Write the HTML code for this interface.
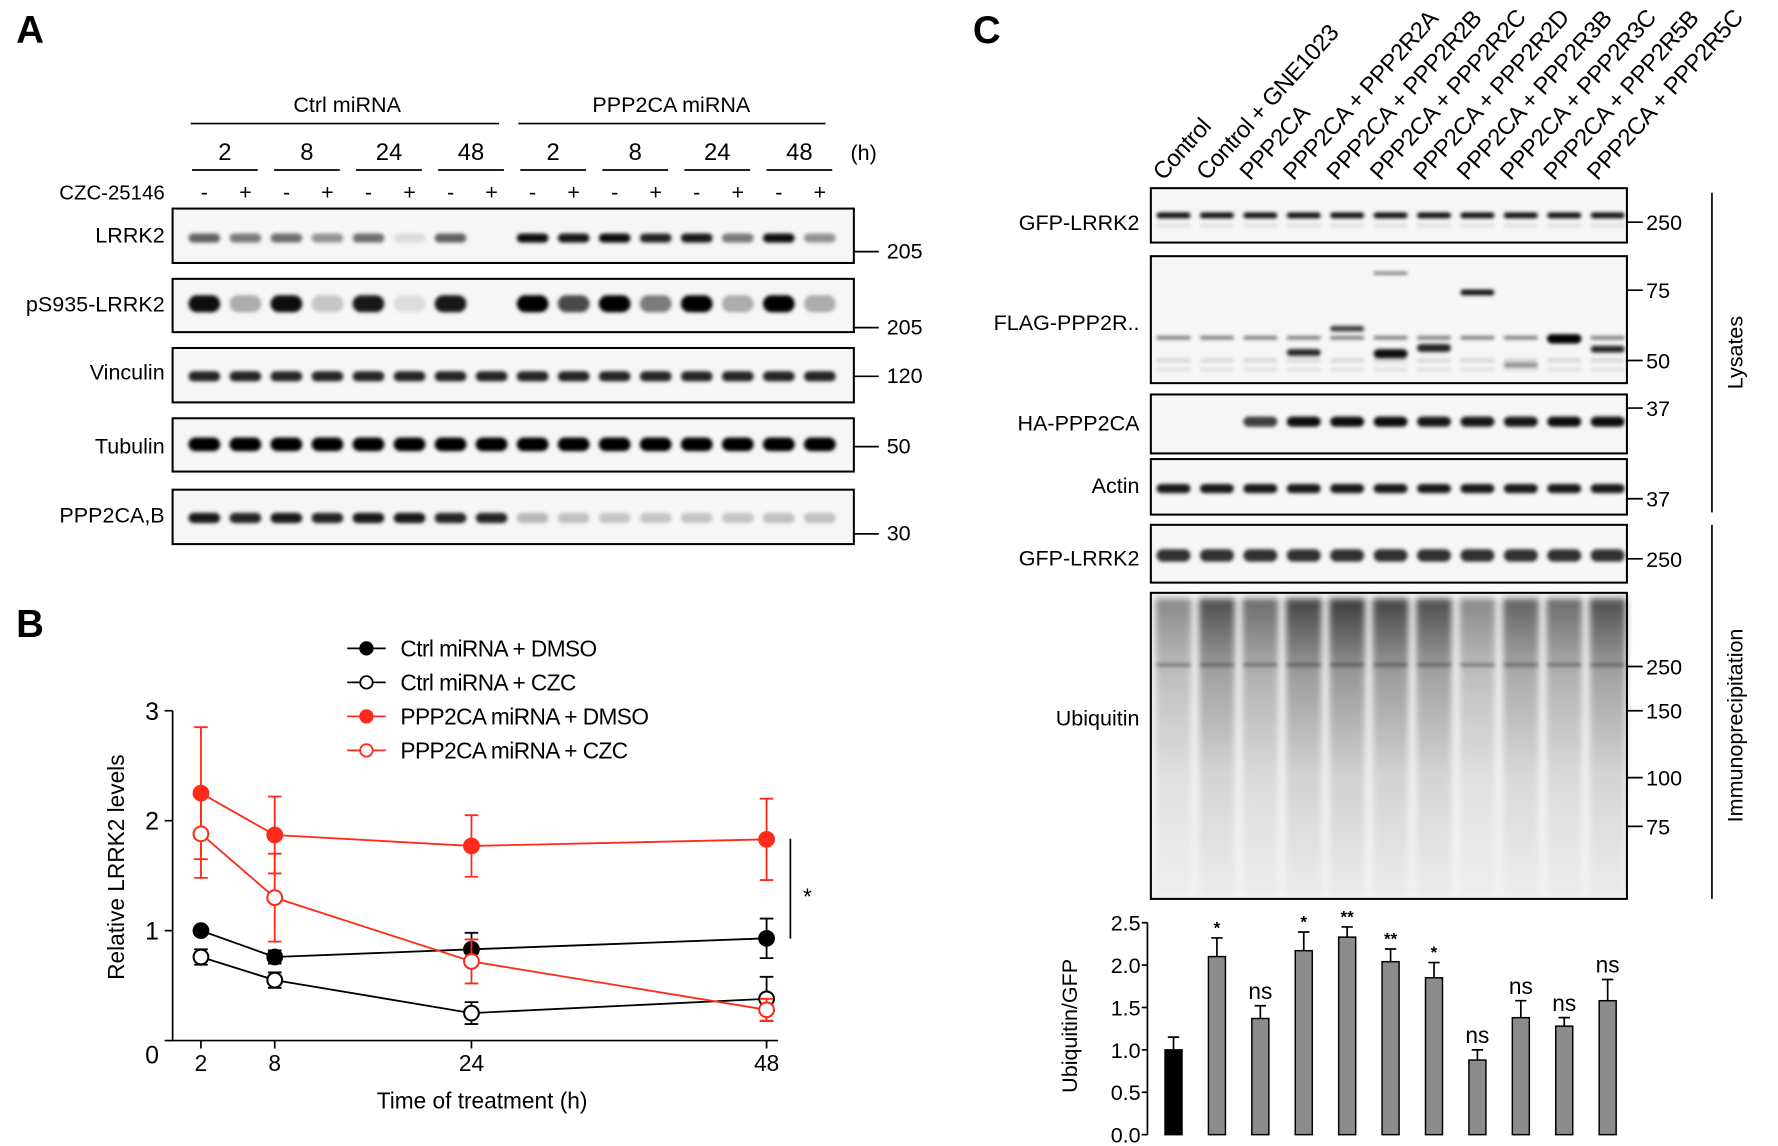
<!DOCTYPE html>
<html><head><meta charset="utf-8"><style>
html,body{margin:0;padding:0;background:#fff;}
svg{display:block;font-family:"Liberation Sans",Arial,sans-serif;}
</style></head><body>
<svg id="fig" width="1778" height="1146" viewBox="0 0 1568 1011" xmlns="http://www.w3.org/2000/svg">
<defs>
<filter id="blur" x="-20%" y="-100%" width="140%" height="300%"><feGaussianBlur stdDeviation="1.6"/></filter>
<filter id="blur2" x="-20%" y="-20%" width="140%" height="140%"><feGaussianBlur stdDeviation="3"/></filter>
</defs>
<g id="panelA"></g>
<g id="panelB"></g>
<g id="panelC"></g>
</svg>
<script>
const NS="http://www.w3.org/2000/svg";
function mk(parent,tag,attrs,text){const e=document.createElementNS(NS,tag);for(const k in attrs)e.setAttribute(k,attrs[k]);if(text!==undefined)e.textContent=text;parent.appendChild(e);return e;}

/* ---------- Panel B data ---------- */
const timesB=[2,8,24,48];
const ctrlDmso=[1.0,0.76,0.83,0.93];
const ctrlDmsoErr=[0.02,0.06,0.15,0.18];
const ctrlCzc=[0.76,0.55,0.25,0.38];
const ctrlCzcErr=[0.07,0.07,0.1,0.2];
const pppDmso=[2.25,1.87,1.77,1.83];
const pppDmsoErr=[0.6,0.35,0.28,0.37];
const pppCzc=[1.88,1.3,0.72,0.28];
const pppCzcErr=[0.4,0.4,0.2,0.1];
const yTicksB=[0,1,2,3];
const xTicksB=[2,8,24,48];

/* ---------- Panel C bar data ---------- */
const barCats=["Control","Control + GNE1023","PPP2CA","PPP2CA + PPP2R2A","PPP2CA + PPP2R2B","PPP2CA + PPP2R2C","PPP2CA + PPP2R2D","PPP2CA + PPP2R3B","PPP2CA + PPP2R3C","PPP2CA + PPP2R5B","PPP2CA + PPP2R5C"];
const barVals=[1.0,2.1,1.37,2.17,2.33,2.04,1.85,0.88,1.38,1.28,1.58];
const barErrs=[0.15,0.22,0.15,0.22,0.12,0.15,0.18,0.12,0.2,0.1,0.25];
const barSig=["","*","ns","*","**","**","*","ns","ns","ns","ns"];
const yTicksC=["0.0","0.5","1.0","1.5","2.0","2.5"];

/* ===== Panel A ===== */
const A=document.getElementById('panelA');
mk(A,'text',{x:14,y:38,'font-size':34,'font-weight':'bold',},'A');
mk(A,'text',{x:306,y:99,'font-size':19,'text-anchor':'middle',},'Ctrl miRNA');
mk(A,'line',{x1:168,x2:440,y1:109,y2:109,stroke:'#000','stroke-width':1.5,});
mk(A,'text',{x:592,y:99,'font-size':19,'text-anchor':'middle',},'PPP2CA miRNA');
mk(A,'line',{x1:457,x2:728,y1:109,y2:109,stroke:'#000','stroke-width':1.5,});
const lanesA=[];for(let i=0;i<16;i++)lanesA.push(180+i*36.2);
const hrs=["2","8","24","48","2","8","24","48"];
for(let p=0;p<8;p++){const cx=(lanesA[2*p]+lanesA[2*p+1])/2;
 const t=mk(A,'text',{x:cx,y:141,'font-size':21,'text-anchor':'middle'},hrs[p]);
 
 
 const l=mk(A,'line',{x1:cx-29,x2:cx+29,y1:150,y2:150,stroke:'#000','stroke-width':1.5});
 
 
}
mk(A,'text',{x:750,y:141,'font-size':19,},'(h)');
mk(A,'text',{x:145,y:176,'font-size':18,'text-anchor':'end',},'CZC-25146');
for(let i=0;i<16;i++){const t=mk(A,'text',{x:lanesA[i],y:176,'font-size':19,'text-anchor':'middle'},i%2?'+':'-');
 
 }

function blot(parent,name,x0,x1,y0,y1,lanes,bands,bw){
 const g=mk(parent,'g',{});
 
 
 mk(g,'rect',{x:x0,y:y0,width:x1-x0,height:y1-y0,fill:'#f6f6f6'});
 bands.forEach(b=>{lanes.forEach((lx,i)=>{const v=b.v[i];if(v<=0)return;
   const r=mk(g,'rect',{x:lx-bw/2,y:b.y-b.h/2,width:bw,height:b.h,rx:b.h/2,fill:'#000','fill-opacity':v,filter:'url(#blur)'});
   
   });});
 mk(g,'rect',{x:x0,y:y0,width:x1-x0,height:y1-y0,fill:'none',stroke:'#000','stroke-width':1.8});
 return g;}
function fill(n,v){return Array(n).fill(v);}
const blotsA=[
 {name:'lrrk2',label:'LRRK2',y0:184,y1:232,ly:214,mk:'205',my:228,bands:[{y:210,h:8,v:[.6,.5,.55,.4,.55,.1,.6,0,.95,.9,.95,.85,.9,.5,.95,.4]}]},
 {name:'ps935-lrrk2',label:'pS935-LRRK2',y0:246,y1:293,ly:275,mk:'205',my:295,bands:[{y:268,h:15,v:[.95,.3,.95,.2,.9,.1,.9,0,1,.7,1,.5,1,.3,1,.3]}]},
 {name:'vinculin',label:'Vinculin',y0:307,y1:355,ly:335,mk:'120',my:338,bands:[{y:332,h:9,v:fill(16,.85)}]},
 {name:'tubulin',label:'Tubulin',y0:369,y1:416,ly:400,mk:'50',my:400,bands:[{y:392,h:12,v:fill(16,1)}]},
 {name:'ppp2ca-b',label:'PPP2CA,B',y0:432,y1:480,ly:461,mk:'30',my:477,bands:[{y:457,h:9,v:[.9,.85,.9,.85,.9,.9,.85,.85,.25,.22,.2,.2,.2,.2,.22,.22]}]}
];
blotsA.forEach(b=>{blot(A,b.name,152,753,b.y0,b.y1,lanesA,b.bands,28);
 const t=mk(A,'text',{x:145,y:b.ly,'font-size':19,'text-anchor':'end'},b.label);
 
 
 const l=mk(A,'line',{x1:753,x2:775,y1:b.my-6,y2:b.my-6,stroke:'#000','stroke-width':1.5});
 
 
 const m=mk(A,'text',{x:782,y:b.my,'font-size':19},b.mk);
 
 
});

/* ===== Panel B ===== */
const B=document.getElementById('panelB');
mk(B,'text',{x:14,y:562,'font-size':34,'font-weight':'bold',},'B');
const bx0=152,by0=918;
function xB(h){return 177+(h-2)*(676-177)/46;}
function yB(v){return 918-v*97;}
mk(B,'line',{x1:bx0,x2:bx0,y1:yB(3),y2:by0,stroke:'#000','stroke-width':1.5,});
mk(B,'line',{x1:bx0,x2:686,y1:by0,y2:by0,stroke:'#000','stroke-width':1.5,});
yTicksB.forEach(v=>{const l=mk(B,'line',{x1:bx0-7,x2:bx0,y1:yB(v),y2:yB(v),stroke:'#000','stroke-width':1.5});
 
 
 const t=mk(B,'text',{x:bx0-12,y:yB(v)+(v===0?20:8),'font-size':22,'text-anchor':'end'},String(v));
 
 });
xTicksB.forEach(h=>{const l=mk(B,'line',{x1:xB(h),x2:xB(h),y1:by0,y2:by0+7,stroke:'#000','stroke-width':1.5});
 
 
 const t=mk(B,'text',{x:xB(h),y:by0+27,'font-size':20,'text-anchor':'middle'},String(h));
 
 });
mk(B,'text',{x:425,y:978,'font-size':20,'text-anchor':'middle',},'Time of treatment (h)');
mk(B,'text',{x:0,y:0,'font-size':20,'text-anchor':'middle',transform:'translate(109,765) rotate(-90)',},'Relative LRRK2  levels');
const seriesB=[
 {name:'ctrl-dmso',vals:ctrlDmso,err:ctrlDmsoErr,color:'#000',open:false,label:'Ctrl miRNA + DMSO'},
 {name:'ctrl-czc',vals:ctrlCzc,err:ctrlCzcErr,color:'#000',open:true,label:'Ctrl miRNA + CZC'},
 {name:'ppp2ca-dmso',vals:pppDmso,err:pppDmsoErr,color:'#ff2a1a',open:false,label:'PPP2CA miRNA + DMSO'},
 {name:'ppp2ca-czc',vals:pppCzc,err:pppCzcErr,color:'#ff2a1a',open:true,label:'PPP2CA miRNA + CZC'}
];
seriesB.forEach((s,si)=>{const g=mk(B,'g',{});
 
 
 const pts=s.vals.map((v,i)=>xB(timesB[i])+','+yB(v)).join(' ');
 const pl=mk(g,'polyline',{points:pts,fill:'none',stroke:s.color,'stroke-width':1.6});
 
 
 s.vals.forEach((v,i)=>{const x=xB(timesB[i]);const e=s.err[i];
  const eb=mk(g,'path',{d:`M${x},${yB(v+e)}V${yB(v-e)}M${x-6},${yB(v+e)}H${x+6}M${x-6},${yB(v-e)}H${x+6}`,stroke:s.color,'stroke-width':1.6,fill:'none'});
  
  
  const c=mk(g,'circle',{cx:x,cy:yB(v),r:6.5,fill:s.open?'#fff':s.color,stroke:s.color,'stroke-width':1.8});
  
  });
 const ly=572+si*30;
 const lg=mk(B,'g',{});
 
 
 mk(lg,'line',{x1:306,x2:340,y1:ly,y2:ly,stroke:s.color,'stroke-width':1.6});
 mk(lg,'circle',{cx:323,cy:ly,r:5.5,fill:s.open?'#fff':s.color,stroke:s.color,'stroke-width':1.6});
 mk(lg,'text',{x:353,y:ly+7,'font-size':20,'letter-spacing':'-0.5'},s.label);
});
mk(B,'line',{x1:697,x2:697,y1:740,y2:828,stroke:'#000','stroke-width':1.5,});
mk(B,'text',{x:712,y:798,'font-size':20,'text-anchor':'middle',},'*');

/* ===== Panel C ===== */
const C=document.getElementById('panelC');
mk(C,'text',{x:858,y:38,'font-size':34,'font-weight':'bold',},'C');
const lanesC=[];for(let i=0;i<11;i++)lanesC.push(1035+i*38.3);
barCats.forEach((c,i)=>{const t=mk(C,'text',{x:0,y:0,'font-size':21,'letter-spacing':'-0.5',transform:`translate(${lanesC[i]-9},160) rotate(-48)`},c);
 
 });
const cx0=1015,cx1=1435;
const blotsC=[
 {name:'gfp-lrrk2-lysate',label:'GFP-LRRK2',y0:166,y1:214,ly:203,bands:[{y:190,h:5,v:fill(11,.95)},{y:199,h:3,v:fill(11,.1)}]},
 {name:'flag-ppp2r',label:'FLAG-PPP2R..',y0:226,y1:338,ly:291,bands:[
   {y:298,h:3,v:fill(11,.55)},{y:318,h:4,v:fill(11,.12)},{y:326,h:3,v:fill(11,.1)},
   {y:311,h:6,v:[0,0,0,.85,0,0,0,0,0,0,0]},{y:290,h:5,v:[0,0,0,0,.75,0,0,0,0,0,0]},
   {y:241,h:2.5,v:[0,0,0,0,0,.55,0,0,0,0,0]},{y:312,h:8,v:[0,0,0,0,0,.95,0,0,0,0,0]},
   {y:307,h:7,v:[0,0,0,0,0,0,.85,0,0,0,0]},{y:258,h:5,v:[0,0,0,0,0,0,0,.95,0,0,0]},
   {y:322,h:4,v:[0,0,0,0,0,0,0,0,.45,0,0]},{y:299,h:8,v:[0,0,0,0,0,0,0,0,0,1,0]},{y:308,h:6,v:[0,0,0,0,0,0,0,0,0,0,.85]}]},
 {name:'ha-ppp2ca',label:'HA-PPP2CA',y0:348,y1:400,ly:380,bands:[{y:372,h:9,v:[0,0,.75,.95,.95,.95,.9,.9,.9,.95,.95]}]},
 {name:'actin',label:'Actin',y0:405,y1:454,ly:435,bands:[{y:431,h:8,v:fill(11,.9)}]},
 {name:'gfp-lrrk2-ip',label:'GFP-LRRK2',y0:463,y1:514,ly:499,bands:[{y:490,h:11,v:fill(11,.8)}]}
];
blotsC.forEach(b=>{blot(C,b.name,cx0,cx1,b.y0,b.y1,lanesC,b.bands,30);
 const t=mk(C,'text',{x:1005,y:b.ly,'font-size':19,'text-anchor':'end'},b.label);
 
 });
const ubi=mk(C,'g',{});
mk(ubi,'rect',{x:cx0,y:523,width:cx1-cx0,height:270,fill:'#f4f4f4'});
const defs=document.querySelector('defs');
const gr=mk(defs,'linearGradient',{id:'smear',x1:0,y1:0,x2:0,y2:1});
mk(gr,'stop',{offset:'0','stop-color':'#000','stop-opacity':'0.8'});
mk(gr,'stop',{offset:'0.25','stop-color':'#000','stop-opacity':'0.4'});
mk(gr,'stop',{offset:'0.6','stop-color':'#000','stop-opacity':'0.15'});
mk(gr,'stop',{offset:'1','stop-color':'#000','stop-opacity':'0.04'});
const ubiInt=[.55,.85,.7,.9,.95,.9,.85,.55,.75,.7,.85];
lanesC.forEach((lx,i)=>{const r=mk(ubi,'rect',{x:lx-16,y:528,width:32,height:262,fill:'url(#smear)','fill-opacity':ubiInt[i],filter:'url(#blur2)'});
 
 
 mk(ubi,'rect',{x:lx-15,y:585,width:30,height:3,fill:'#000','fill-opacity':.35,filter:'url(#blur)'});});
mk(ubi,'rect',{x:cx0,y:523,width:cx1-cx0,height:270,fill:'none',stroke:'#000','stroke-width':1.8});
mk(C,'text',{x:1005,y:640,'font-size':19,'text-anchor':'end',},'Ubiquitin');
const markersC=[["250",196],["75",256],["50",318],["37",360],["37",440],["250",493],["250",588],["150",627],["100",686],["75",729]];
markersC.forEach(m=>{const l=mk(C,'line',{x1:cx1,x2:cx1+14,y1:m[1],y2:m[1],stroke:'#000','stroke-width':1.5});
 
 
 const t=mk(C,'text',{x:cx1+17,y:m[1]+7,'font-size':19},m[0]);
 
 });
mk(C,'line',{x1:1510,x2:1510,y1:170,y2:452,stroke:'#000','stroke-width':1.5,});
mk(C,'text',{x:0,y:0,'font-size':19,'text-anchor':'middle',transform:'translate(1537,311) rotate(-90)',},'Lysates');
mk(C,'line',{x1:1510,x2:1510,y1:463,y2:793,stroke:'#000','stroke-width':1.5,});
mk(C,'text',{x:0,y:0,'font-size':19,'text-anchor':'middle',transform:'translate(1537,640) rotate(-90)',},'Immunoprecipitation');

function yC(v){return 1001-v*(1001-814)/2.5;}
const bax=1012;
mk(C,'line',{x1:bax,x2:bax,y1:yC(2.5),y2:yC(0),stroke:'#000','stroke-width':1.5,});
yTicksC.forEach(s=>{const v=parseFloat(s);
 const l=mk(C,'line',{x1:bax-5,x2:bax,y1:yC(v),y2:yC(v),stroke:'#000','stroke-width':1.5});
 
 
 const t=mk(C,'text',{x:bax-6,y:yC(v)+7,'font-size':19,'text-anchor':'end'},s);
 
 });
mk(C,'text',{x:0,y:0,'font-size':19,'text-anchor':'middle',transform:'translate(950,905) rotate(-90)',},'Ubiquitin/GFP');
barVals.forEach((v,i)=>{const x=lanesC[i];const w=15;
 const r=mk(C,'rect',{x:x-w/2,y:yC(v),width:w,height:yC(0)-yC(v),fill:i===0?'#000':'#8c8c8c',stroke:'#000','stroke-width':1.3});
 
 
 const e=barErrs[i];
 const eb=mk(C,'path',{d:`M${x},${yC(v)}V${yC(v+e)}M${x-5},${yC(v+e)}H${x+5}`,stroke:'#000','stroke-width':1.5,fill:'none'});
 
 
 if(barSig[i]){const ns=barSig[i]==='ns';
  const t=mk(C,'text',{x:x,y:yC(v+e)-(ns?6:4),'font-size':ns?20:15,'font-weight':ns?'normal':'bold','text-anchor':'middle'},barSig[i]);
  
  }
});
</script>
</body></html>
